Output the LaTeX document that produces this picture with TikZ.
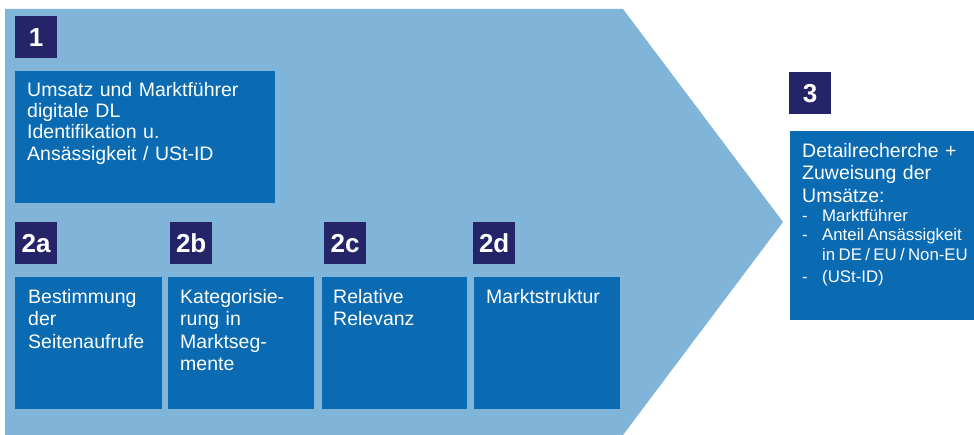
\documentclass[tikz,border=0pt]{standalone}
\usepackage{fontspec}
\setmainfont{Liberation Sans}
\definecolor{lightb}{RGB}{128,180,216}
\definecolor{midb}{RGB}{10,106,178}
\definecolor{navyb}{RGB}{38,36,104}
\begin{document}
\begin{tikzpicture}[x=1pt,y=-1pt,
  box/.style={fill=midb, draw=none, inner sep=0pt, anchor=north west},
  tag/.style={fill=navyb, draw=none, inner sep=0pt, anchor=north west,
    minimum width=42pt, minimum height=42pt, text=white,
    font=\fontsize{26}{28}\selectfont\bfseries},
  txt/.style={anchor=north west, inner sep=0pt, text=white, align=left,
    font=\fontsize{19.5}{22.5}\selectfont},
]
\useasboundingbox (0,0) rectangle (974,435);
\clip (0,0) rectangle (974,435);
\fill[white] (0,0) rectangle (974,435);
% big arrow
\fill[lightb] (5,9) -- (623,9) -- (783,222) -- (623,435) -- (5,435) -- cycle;

% step 1
\node[tag] (tag1) at (15,16) {1};
\node[box, minimum width=260pt, minimum height=132pt] (b1) at (15,71) {};
\node[txt, text width=245pt, font=\fontsize{19.5}{21.3}\selectfont] (t1) at ([xshift=12pt,yshift=-10pt]b1.north west)
  {\rule{0pt}{15pt}Umsatz und Marktführer\\digitale DL\\Identifikation u.\\Ansässigkeit / USt-ID};

% steps 2a-2d
\node[tag] (tag2a) at (15,222) {2a};
\node[tag] (tag2b) at (170,222) {2b};
\node[tag] (tag2c) at (324,222) {2c};
\node[tag] (tag2d) at (473,222) {2d};

\node[box, minimum width=147pt, minimum height=132pt] (b2a) at (15,277) {};
\node[box, minimum width=146pt, minimum height=132pt] (b2b) at (168,277) {};
\node[box, minimum width=145pt, minimum height=132pt] (b2c) at (322,277) {};
\node[box, minimum width=146pt, minimum height=132pt] (b2d) at (474,277) {};

\node[txt, text width=135pt] (t2a) at ([xshift=13pt,yshift=-11pt]b2a.north west)
  {\rule{0pt}{15pt}Bestimmung\\der\\Seitenaufrufe};
\node[txt, text width=135pt] (t2b) at ([xshift=12pt,yshift=-11pt]b2b.north west)
  {\rule{0pt}{15pt}Kategorisie-\\rung in\\Marktseg-\\mente};
\node[txt, text width=135pt] (t2c) at ([xshift=11pt,yshift=-11pt]b2c.north west)
  {\rule{0pt}{15pt}Relative\\Relevanz};
\node[txt, text width=135pt] (t2d) at ([xshift=12pt,yshift=-11pt]b2d.north west)
  {\rule{0pt}{15pt}Marktstruktur};

% step 3
\node[tag] (tag3) at (789,72) {3};
\node[box, minimum width=200pt, minimum height=189pt] (b3) at (790,131) {};
\node[txt, text width=230pt] (t3) at ([xshift=12pt,yshift=-11pt]b3.north west)
  {\rule{0pt}{15pt}Detailrecherche +\\Zuweisung der\\Umsätze:\par
   \fontsize{16.8}{19.3}\selectfont\spaceskip=0.2em
   \mbox{\makebox[20pt][l]{-}Marktführer}\\
   \mbox{\makebox[20pt][l]{-}Anteil Ansässigkeit}\\
   \mbox{\hspace*{20pt}in DE / EU / Non-EU}\\
   \mbox{\makebox[20pt][l]{-}(USt-ID)}};
\end{tikzpicture}
\end{document}
